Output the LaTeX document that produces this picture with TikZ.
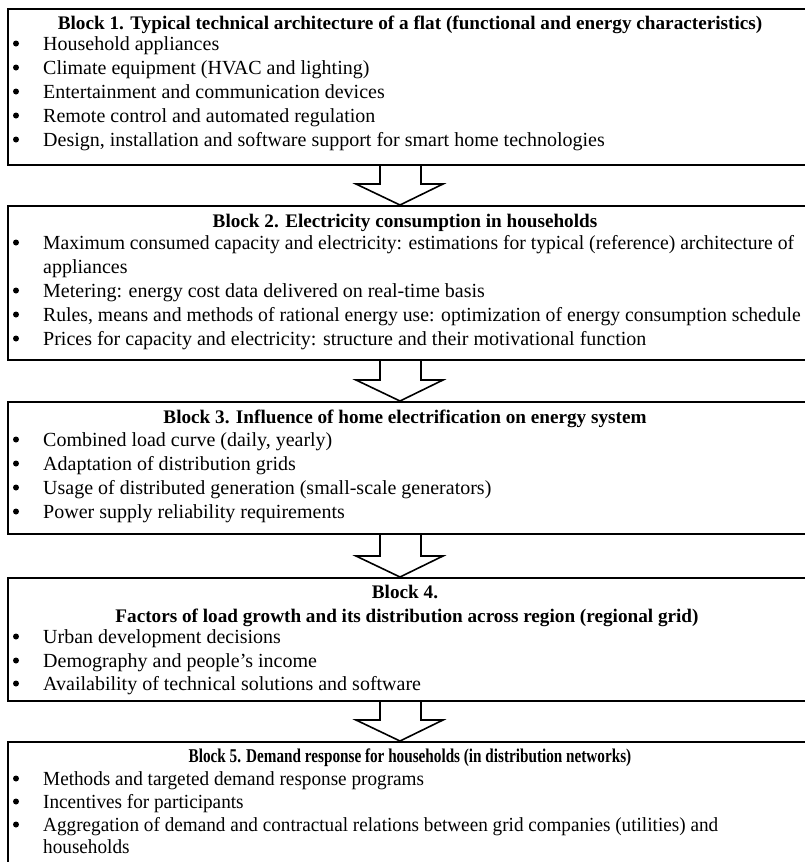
\documentclass[tikz,border=0pt]{standalone}
\usepackage{fontspec}
\usepackage{graphicx}
\setmainfont{Liberation Serif}
\newfontfamily\condfont[FakeStretch=0.96]{Liberation Serif}
\newfontfamily\condheadfont[FakeStretch=0.78]{Liberation Serif}
\usetikzlibrary{calc}
\tikzset{
  blockbox/.style={draw, line width=1.6pt, rectangle, anchor=north west, inner sep=0pt, minimum width=800pt},
  txt/.style={anchor=base west, inner sep=0pt},
  bul/.style={circle, fill, inner sep=0pt, minimum size=6pt},
  head/.style={anchor=base, inner sep=0pt, font=\fontsize{19.2}{24}\selectfont\bfseries},
  arr/.style={draw, line width=1.6pt, line join=miter}
}
\newcommand\bitem[3]{\node[bul] (#1b) at (16,{#2-6.5}) {};\node[txt] (#1) at (43,#2) {#3};}
\newcommand\bigarrow[2]{%
  \draw[arr] ($(ac |- #1.south)+(-20,0)$) -- ($(ac |- #2.north)+(-20,-21)$) -- ($(ac |- #2.north)+(-44,-21)$) -- (ac |- #2.north) -- ($(ac |- #2.north)+(43,-21)$) -- ($(ac |- #2.north)+(21,-21)$) -- ($(ac |- #1.south)+(21,0)$);}
\begin{document}
\begin{tikzpicture}[x=1pt,y=-1pt,font=\fontsize{20}{24}\selectfont]
\useasboundingbox (0,0) rectangle (805,862);
\clip (0,0) rectangle (805,862);
\fill[white] (0,0) rectangle (805,862);
\coordinate (ac) at (400,0);
% boxes
\node[blockbox, minimum height=156pt] (b1) at (7,8) {};
\node[blockbox, minimum height=154pt] (b2) at (7,205) {};
\node[blockbox, minimum height=132pt] (b3) at (7,401) {};
\node[blockbox, minimum height=123pt] (b4) at (7,577) {};
\node[blockbox, minimum height=140pt] (b5) at (7,741) {};
% arrows
\bigarrow{b1}{b2}
\bigarrow{b2}{b3}
\bigarrow{b3}{b4}
\bigarrow{b4}{b5}
% block 1
\node[head] (h1) at (410,29) {Block 1. Typical technical architecture of a flat (functional and energy characteristics)};
\bitem{i11}{50}{Household appliances}
\bitem{i12}{74}{Climate equipment (HVAC and lighting)}
\bitem{i13}{98}{Entertainment and communication devices}
\bitem{i14}{122}{Remote control and automated regulation}
\bitem{i15}{146}{Design, installation and software support for smart home technologies}
% block 2
\node[head] (h2) at (405,227) {Block 2. Electricity consumption in households};
\bitem{i21}{249}{\scalebox{0.982}[1]{Maximum consumed capacity and electricity: estimations for typical (reference) architecture of}}
\node[txt] (i21c) at (43,273) {appliances};
\bitem{i22}{297}{Metering: energy cost data delivered on real-time basis}
\bitem{i23}{321}{\scalebox{0.985}[1]{Rules, means and methods of rational energy use: optimization of energy consumption schedule}}
\bitem{i24}{345}{Prices for capacity and electricity: structure and their motivational function}
% block 3
\node[head] (h3) at (405,423) {Block 3. Influence of home electrification on energy system};
\bitem{i31}{446}{Combined load curve (daily, yearly)}
\bitem{i32}{470}{Adaptation of distribution grids}
\bitem{i33}{494}{Usage of distributed generation (small-scale generators)}
\bitem{i34}{518}{Power supply reliability requirements}
% block 4
\node[head] (h4a) at (405,598) {Block 4.};
\node[head] (h4b) at (407,622) {Factors of load growth and its distribution across region (regional grid)};
\bitem{i41}{643}{Urban development decisions}
\bitem{i42}{667}{Demography and people's income}
\bitem{i43}{690}{Availability of technical solutions and software}
% block 5
\begin{scope}[font=\condfont\fontsize{20}{24}\selectfont]
\node[head, font=\condheadfont\fontsize{19.5}{24}\selectfont\bfseries] (h5) at (410,762) {Block 5. Demand response for households (in distribution networks)};
\bitem{i51}{785}{Methods and targeted demand response programs}
\bitem{i52}{808}{Incentives for participants}
\bitem{i53}{831}{Aggregation of demand and contractual relations between grid companies (utilities) and}
\node[txt] (i53c) at (43,853) {households};
\end{scope}
\end{tikzpicture}
\end{document}
